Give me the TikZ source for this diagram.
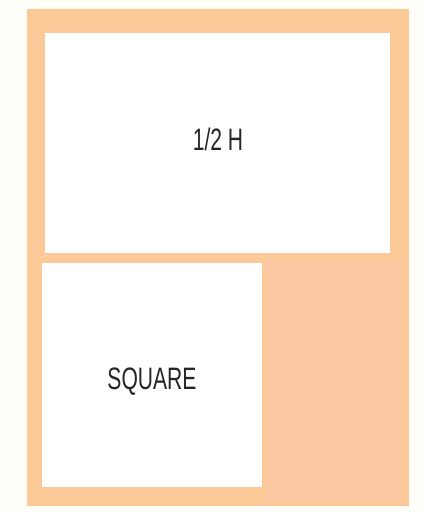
\documentclass[tikz,border=0pt]{standalone}
\usepackage{fontspec}
\setmainfont{Liberation Sans}
\definecolor{framepeach}{RGB}{251,202,152}
\definecolor{cornerpeach}{RGB}{252,200,163}
\definecolor{papercream}{RGB}{255,254,248}
\tikzset{
  slot/.style={fill=white, draw=none, inner sep=0pt},
  slotlabel/.style={font=\fontsize{31}{31}\selectfont, text=black!85}
}
\newcommand{\condensed}[1]{\scalebox{0.68}[1]{#1}}
\begin{document}
\begin{tikzpicture}[x=1pt, y=-1pt]
  \useasboundingbox[fill=papercream] (0,0) rectangle (422,512);
  % page frame
  \fill[framepeach] (27,9) rectangle (409,506);
  \fill[cornerpeach] (266,260) rectangle (402,500);
  % slots
  \node[slot, minimum width=345pt, minimum height=220pt] (half) at (217.5,143) {};
  \node[slot, minimum width=220pt, minimum height=224pt] (square) at (152,375) {};
  \node[slotlabel] (halflabel) at (218,139) {\condensed{1/2 H}};
  \node[slotlabel] (squarelabel) at (152,382) {\condensed{SQUARE}};
\end{tikzpicture}
\end{document}
